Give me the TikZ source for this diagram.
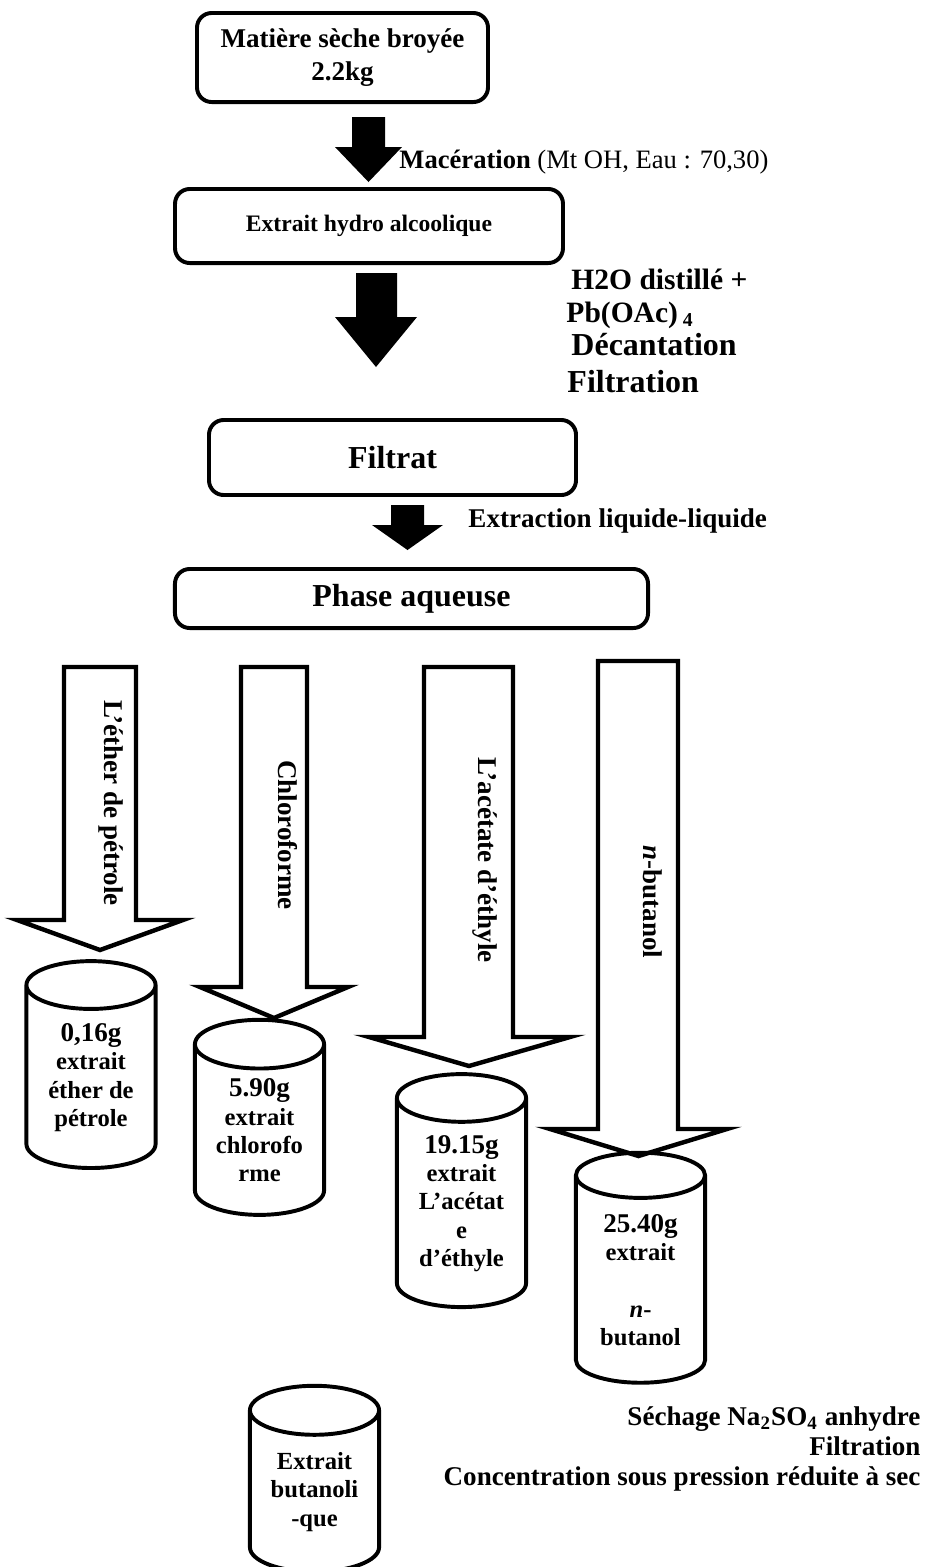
\documentclass[tikz,border=0pt]{standalone}
\usepackage{fontspec}
\setmainfont{Liberation Serif}
\usepackage{tikz}
\usetikzlibrary{shapes.geometric}

\begin{document}
\begin{tikzpicture}[
  x=0.4065pt, y=-0.4065pt,
  box/.style={draw, line width=1.6pt, rounded corners=6pt, inner sep=0pt, align=center},
  can/.style={cylinder, shape border rotate=90, draw, line width=1.6pt, aspect=0.56,
    minimum width=52.5pt, inner sep=0pt, align=center,
    font=\fontsize{10}{11.5}\selectfont\bfseries},
  hollow/.style={draw, line width=1.8pt, line join=miter, fill=white},
  solv/.style={rotate=-90, font=\fontsize{11}{13}\selectfont\bfseries},
  lbl/.style={anchor=base west, inner sep=0pt, font=\fontsize{#1}{15}\selectfont\bfseries},
  lbr/.style={anchor=base east, inner sep=0pt, font=\fontsize{#1}{15}\selectfont\bfseries}]
  \useasboundingbox (0,0) rectangle (936,1567);
  \clip (0,0) rectangle (936,1567);
  % Boites
  \node[box, minimum width=118.3pt, minimum height=36.2pt, font=\fontsize{11}{13.4}\selectfont\bfseries]
    (mat) at (342.5,57.5) {Matière sèche broyée\\2.2kg};
  \node[box, minimum width=157.7pt, minimum height=30.1pt, font=\fontsize{9.6}{11}\selectfont\bfseries]
    (hyd) at (369,226) {Extrait hydro alcoolique};
  \node[box, minimum width=149.2pt, minimum height=30.5pt, font=\fontsize{13}{15}\selectfont\bfseries]
    (fil) at (392.5,457.5) {Filtrat};
  \node[box, minimum width=192.3pt, minimum height=24pt, font=\fontsize{13}{15}\selectfont\bfseries]
    (aq) at (411.5,598.5) {Phase aqueuse};
  % Fleches pleines
  \fill (352,117) -- (385,117) -- (385,147) -- (402,147) -- (368.5,182) -- (335,147) -- (352,147) -- cycle;
  \fill (356,273) -- (397,273) -- (397,317) -- (417,317) -- (376,367) -- (335,317) -- (356,317) -- cycle;
  \fill (391,505) -- (424,505) -- (424,525) -- (443,525) -- (407.5,550) -- (372,525) -- (391,525) -- cycle;
  % Operations
  \node[anchor=base west, inner sep=0pt, font=\fontsize{10.8}{13}\selectfont] (mac) at (399,168)
    {\textbf{Macération} (Mt OH, Eau : 70,30)};
  \node[lbl=12] (h2o) at (571,289) {H2O distillé +};
  \node[lbl=12] (pb) at (566,322) {Pb(OAc)\,\raisebox{-0.3ex}{\fontsize{8}{9}\selectfont 4}};
  \node[lbl=13] (dec) at (571,355) {Décantation};
  \node[lbl=13] (filt) at (567,392) {Filtration};
  \node[lbl=11] (ell) at (468,527) {Extraction liquide-liquide};
  % Fleches creuses (solvants)
  \draw[hollow] (64,667) -- (136,667) -- (136,920) -- (183,920) -- (100,950) -- (17,920) -- (64,920) -- cycle;
  \draw[hollow] (241,667) -- (307,667) -- (307,987) -- (348,987) -- (274,1018) -- (200,987) -- (241,987) -- cycle;
  \draw[hollow] (424,667) -- (513,667) -- (513,1037) -- (570,1037) -- (469,1066) -- (369,1037) -- (424,1037) -- cycle;
  \draw[hollow] (598,661) -- (678,661) -- (678,1129) -- (727,1129) -- (638.5,1156) -- (550,1129) -- (598,1129) -- cycle;
  \node[solv] (pe) at (111,803) {L’éther de pétrole};
  \node[solv] (ch) at (288,835) {Chloroforme};
  \node[solv] (ae) at (485,860) {L’acétate d’éthyle};
  \node[solv] (bu) at (653,902) {\textit{n}-butanol};
  % Extraits
  \node[can, minimum height=84.1pt] (c1) at (91,1077.5)
    {{\fontsize{11}{11.5}\selectfont 0,16g}\\extrait\\éther de\\pétrole};
  \node[can, minimum height=79.3pt] (c2) at (259.5,1130.5)
    {{\fontsize{11}{11.5}\selectfont 5.90g}\\extrait\\chlorofo\\rme};
  \node[can, minimum height=94.7pt] (c3) at (461.5,1203.5)
    {{\fontsize{11}{11.5}\selectfont 19.15g}\\extrait\\L’acétat\\e\\d’éthyle};
  \node[can, minimum height=93.5pt] (c4) at (640.5,1280)
    {{\fontsize{11}{11.5}\selectfont 25.40g}\\extrait\\[11.5pt]\textit{n}-\\butanol};
  \node[can, minimum height=75.6pt] (c5) at (314.5,1492) {Extrait\\butanoli\\-que};
  % Traitement final
  \node[lbr=11] (sec) at (921,1425) {Séchage Na\textsubscript{2}SO\textsubscript{4} anhydre};
  \node[lbr=11] (flt) at (921,1455) {Filtration};
  \node[lbr=11] (con) at (921,1485) {Concentration sous pression réduite à sec};
\end{tikzpicture}
\end{document}
